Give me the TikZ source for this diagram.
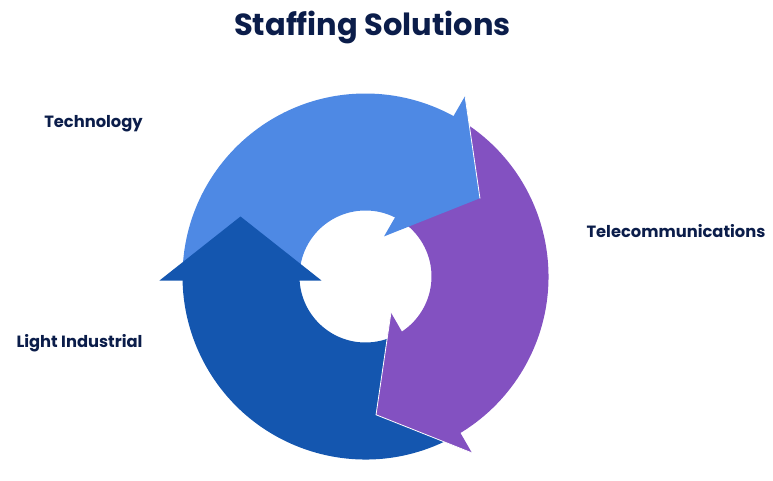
\documentclass[tikz,border=0pt]{standalone}
\usepackage{fontspec}
\setmainfont{Poppins}
\definecolor{lightarrow}{HTML}{4E89E4}
\definecolor{purplearrow}{HTML}{8351C1}
\definecolor{darkarrow}{HTML}{1456AF}
\definecolor{navy}{HTML}{0B1D4A}
\tikzset{
  labeltext/.style={font=\bfseries\fontsize{16.3}{20}\selectfont, text=navy, anchor=base, inner sep=0pt},
  titletext/.style={font=\bfseries\fontsize{30.5}{36}\selectfont, text=navy, anchor=base, inner sep=0pt},
  headedge/.style={draw=white, line width=0.8pt, line cap=round}
}
\newcommand{\cycbody}[1]{\fill[#1] (-62:183) arc[start angle=-62,end angle=-180,radius=183] -- (-180:66) arc[start angle=-180,end angle=-62,radius=66] -- cycle;}
\newcommand{\cychead}[1]{\fill[#1] (-44,-4) -- (-206,-4) -- (-125,60) -- cycle;}
\begin{document}
\begin{tikzpicture}[x=1pt,y=1pt]
\useasboundingbox (-365.5,-203.5) rectangle (407.5,276.5);
% bodies
\begin{scope}\cycbody{darkarrow}\end{scope}
\begin{scope}[rotate=-120]\cycbody{lightarrow}\end{scope}
\begin{scope}[rotate=120]\cycbody{purplearrow}\end{scope}
% heads
\begin{scope}\cychead{darkarrow}\end{scope}
\begin{scope}[rotate=-120]\cychead{lightarrow}\draw[headedge] (-206,-4) -- (-125,60);\end{scope}
\begin{scope}[rotate=120]\cychead{purplearrow}\draw[headedge] (-206,-4) -- (-125,60) -- (-44,-4);\end{scope}
% texts
\node[titletext] (title) at (7,240.5) {Staffing Solutions};
\node[labeltext] (tech) at (-272,149.5) {Technology};
\node[labeltext] (light) at (-286,-70.5) {Light Industrial};
\node[labeltext] (tele) at (310.5,39.5) {Telecommunications};
\end{tikzpicture}
\end{document}
